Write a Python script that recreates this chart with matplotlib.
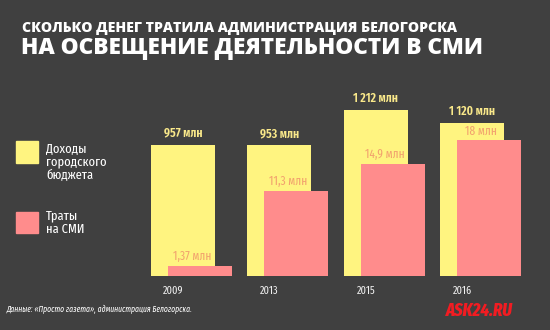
import numpy as np
import matplotlib
matplotlib.use("Agg")
import matplotlib.pyplot as plt
import matplotlib.patches as mpatches

# Данные
years = ["2009", "2013", "2015", "2016"]
budget = [957, 953, 1212, 1120]           # доходы бюджета, млн
media = [1.37, 11.3, 14.9, 18]            # траты на СМИ, млн
budget_labels = ["957 млн", "953 млн", "1 212 млн", "1 120 млн"]
media_labels = ["1,37 млн", "11,3 млн", "14,9 млн", "18 млн"]

BG = "#404040"
YELLOW = "#fff480"
PINK = "#ff8c8c"
YELLOW_TXT = "#f9e88a"
PINK_TXT = "#f2a36e"

narrow = ["Fira Sans Extra Condensed", "DejaVu Sans"]
heavy = ["Open Sans", "DejaVu Sans"]

fig = plt.figure(figsize=(5.5, 3.3), dpi=100, facecolor=BG)

W, H = 550, 330
left_px, right_px, bottom_px, top_px = 140, 540, 276, 30
ax = fig.add_axes([left_px / W, 1 - bottom_px / H,
                   (right_px - left_px) / W, (bottom_px - top_px) / H])
ax2 = ax.twinx()

step = 96.3
bw = 64 / step
off = 17 / step
x = np.arange(len(years))

ax.bar(x, budget, width=bw, align="edge", color=YELLOW, zorder=1)
ax2.bar(x + off, media, width=bw, align="edge", color=PINK, zorder=3)

ax.set_xlim(-11 / step, (right_px - left_px - 11) / step)
ax.set_ylim(0, (bottom_px - top_px) / 0.137)
ax2.set_ylim(0, (bottom_px - top_px) / 7.55)

for a in (ax, ax2):
    a.set_facecolor("none")
    a.axis("off")
ax.set_zorder(1)
ax2.set_zorder(2)

for i in range(len(years)):
    ax.annotate(budget_labels[i], (x[i] + bw / 2, budget[i]),
                xytext=(0, 4), textcoords="offset points",
                ha="center", va="bottom", color=YELLOW_TXT,
                fontsize=9.2, fontweight="semibold", family=narrow)
    ax2.annotate(media_labels[i], (x[i] + off + bw / 2 - 0.085, media[i]),
                 xytext=(0, 2), textcoords="offset points",
                 ha="center", va="bottom", color=PINK_TXT,
                 fontsize=9, family=narrow)
    ax.annotate(years[i], (x[i] + bw / 2 - 0.1, 0),
                xytext=(0, -7), textcoords="offset points",
                ha="center", va="top", color="#f0f0f0",
                fontsize=8, family=narrow)

# Заголовок
fig.text(22 / W, 1 - 28 / H, "СКОЛЬКО ДЕНЕГ ТРАТИЛА АДМИНИСТРАЦИЯ БЕЛОГОРСКА",
         color="white", fontsize=10.1, fontweight="heavy", family=heavy,
         ha="left", va="center")
fig.text(21 / W, 1 - 48.5 / H, "НА ОСВЕЩЕНИЕ ДЕЯТЕЛЬНОСТИ В СМИ",
         color="white", fontsize=16.3, fontweight="heavy", family=heavy,
         ha="left", va="center")

# Легенда
fig.patches.append(mpatches.Rectangle((16 / W, 1 - 163 / H), 22 / W, 22 / H,
                                      transform=fig.transFigure, color=YELLOW))
fig.patches.append(mpatches.Rectangle((16 / W, 1 - 233 / H), 22 / W, 21 / H,
                                      transform=fig.transFigure, color=PINK))
fig.text(46 / W, 1 - 142 / H, "Доходы\nгородского\nбюджета", color="white",
         fontsize=9.8, family=narrow, ha="left", va="top", linespacing=1.12)
fig.text(46 / W, 1 - 210 / H, "Траты\nна СМИ", color="white",
         fontsize=9.8, family=narrow, ha="left", va="top", linespacing=1.12)

# Подписи
fig.text(7 / W, 1 - 309 / H,
         "Данные: «Просто газета», администрация Белогорска.",
         color="white", fontsize=6, style="italic", family=narrow,
         ha="left", va="center")
fig.text(513 / W, 1 - 311 / H, "ASK24.RU", color="#f21c22",
         fontsize=13, fontweight="heavy", style="italic", family=narrow,
         ha="right", va="center")

fig.savefig("out.png", dpi=100, facecolor=BG)
